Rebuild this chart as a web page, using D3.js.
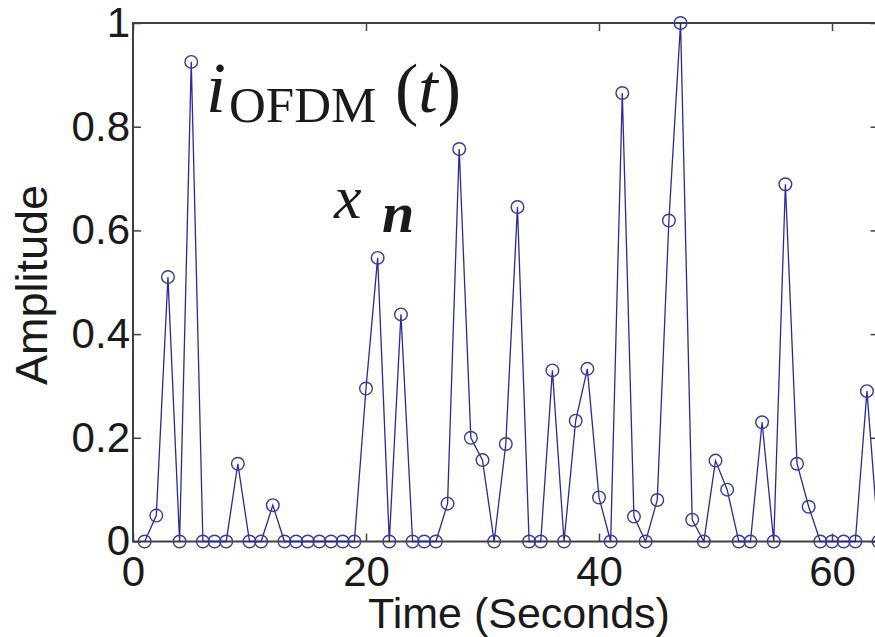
<!DOCTYPE html>
<html>
<head>
<meta charset="utf-8">
<script src="https://cdn.jsdelivr.net/npm/d3@7/dist/d3.min.js"></script>
<style>
  html, body { margin: 0; padding: 0; background: #fff; }
  svg { display: block; }
</style>
</head>
<body>
<svg id="chart" width="875" height="637"></svg>
<script>
// ---- data ----
const times = [1,2,3,4,5,6,7,8,9,10,11,12,13,14,15,16,17,18,19,20,21,22,23,24,25,26,27,28,29,30,31,32,
               33,34,35,36,37,38,39,40,41,42,43,44,45,46,47,48,49,50,51,52,53,54,55,56,57,58,59,60,61,62,63,64];
const amplitude = [0,0.05,0.51,0,0.925,0,0,0,0.15,0,0,0.07,0,0,0,0,0,0,0,0.295,0.547,0,0.438,0,0,0,0.073,0.757,0.20,0.157,0,0.188,
                   0.645,0,0,0.33,0,0.233,0.333,0.085,0,0.865,0.048,0,0.08,0.619,1.0,0.042,0,0.156,0.10,0,0,0.23,0,0.689,0.15,0.067,0,0,0,0,0.29,0];
const xTicks = [0, 20, 40, 60];
const xTickLabels = ["0", "20", "40", "60"];
const yTicks = [0, 0.2, 0.4, 0.6, 0.8, 1];
const yTickLabels = ["0", "0.2", "0.4", "0.6", "0.8", "1"];
const xLabel = "Time (Seconds)";
const yLabel = "Amplitude";

// ---- layout ----
const svg = d3.select("#chart");
const mLeft = 133, mTop = 23, mBottom = 541.5, mRight = 878.6;
const x = d3.scaleLinear().domain([0, 64]).range([mLeft, mRight]);
const y = d3.scaleLinear().domain([0, 1]).range([mBottom, mTop]);
const axisColor = "#404040";
const textColor = "#1a1a1a";
const fontSans = "'Liberation Sans', Arial, Helvetica, sans-serif";
const fontSerif = "'Liberation Serif', 'Times New Roman', serif";

// frame
svg.append("rect")
  .attr("x", mLeft).attr("y", mTop)
  .attr("width", mRight - mLeft).attr("height", mBottom - mTop)
  .attr("fill", "none").attr("stroke", axisColor).attr("stroke-width", 2);

function styleAxis(g, showText) {
  g.select(".domain").remove();
  g.selectAll(".tick line").attr("stroke", axisColor).attr("stroke-width", 1.5);
  g.selectAll(".tick text")
    .attr("fill", textColor)
    .style("font-family", fontSans)
    .style("font-size", "42px");
  if (!showText) g.selectAll(".tick text").remove();
}

const xFmt = (d) => xTickLabels[xTicks.indexOf(d)];
const yFmt = (d) => yTickLabels[yTicks.indexOf(d)];

svg.append("g").attr("transform", `translate(0,${mBottom})`)
  .call(d3.axisBottom(x).tickValues(xTicks).tickFormat(xFmt).tickSizeInner(-8).tickSizeOuter(0).tickPadding(15))
  .call(g => styleAxis(g, true));
svg.append("g").attr("transform", `translate(0,${mTop})`)
  .call(d3.axisTop(x).tickValues(xTicks).tickSizeInner(-8).tickSizeOuter(0))
  .call(g => styleAxis(g, false));
svg.append("g").attr("transform", `translate(${mLeft},0)`)
  .call(d3.axisLeft(y).tickValues(yTicks).tickFormat(yFmt).tickSizeInner(-8).tickSizeOuter(0).tickPadding(3))
  .call(g => styleAxis(g, true));
svg.append("g").attr("transform", `translate(${mRight},0)`)
  .call(d3.axisRight(y).tickValues(yTicks).tickSizeInner(-8).tickSizeOuter(0))
  .call(g => styleAxis(g, false));

// axis labels
svg.append("text")
  .attr("x", (365 + 673) / 2).attr("y", 628)
  .attr("text-anchor", "middle")
  .attr("fill", textColor)
  .style("font-family", fontSans).style("font-size", "43px")
  .text(xLabel);
svg.append("text")
  .attr("transform", "translate(47,285) rotate(-90)")
  .attr("text-anchor", "middle")
  .attr("fill", textColor)
  .style("font-family", fontSans).style("font-size", "45px")
  .text(yLabel);

// data
const pts = times.map((t, i) => ({ t, v: amplitude[i] }));
const lineColor = "#2a2a9c";
svg.append("path")
  .datum(pts)
  .attr("fill", "none")
  .attr("stroke", lineColor)
  .attr("stroke-width", 1.3)
  .attr("d", d3.line().x(d => x(d.t)).y(d => y(d.v)));
svg.append("g").selectAll("circle")
  .data(pts).join("circle")
  .attr("cx", d => x(d.t)).attr("cy", d => y(d.v))
  .attr("r", 6.3)
  .attr("fill", "none")
  .attr("stroke", "#3838a6")
  .attr("stroke-width", 1.4);

// annotations
const ann1 = svg.append("text").attr("fill", textColor).style("font-family", fontSerif);
ann1.append("tspan").attr("x", 206).attr("y", 112).style("font-size", "72px").style("font-style", "italic").text("i");
ann1.append("tspan").attr("x", 229).attr("y", 122).style("font-size", "51px").text("OFDM");
ann1.append("tspan").attr("x", 395).attr("y", 112).style("font-size", "70px").text("(");
ann1.append("tspan").style("font-size", "70px").style("font-style", "italic").text("t");
ann1.append("tspan").style("font-size", "70px").text(")");

const ann2 = svg.append("text").attr("fill", textColor).style("font-family", fontSerif);
ann2.append("tspan").attr("x", 334).attr("y", 218).style("font-size", "62px").style("font-style", "italic").text("x");
ann2.append("tspan").attr("x", 382).attr("y", 232).style("font-size", "58px").style("font-style", "italic").style("font-weight", "bold").text("n");
</script>
</body>
</html>
